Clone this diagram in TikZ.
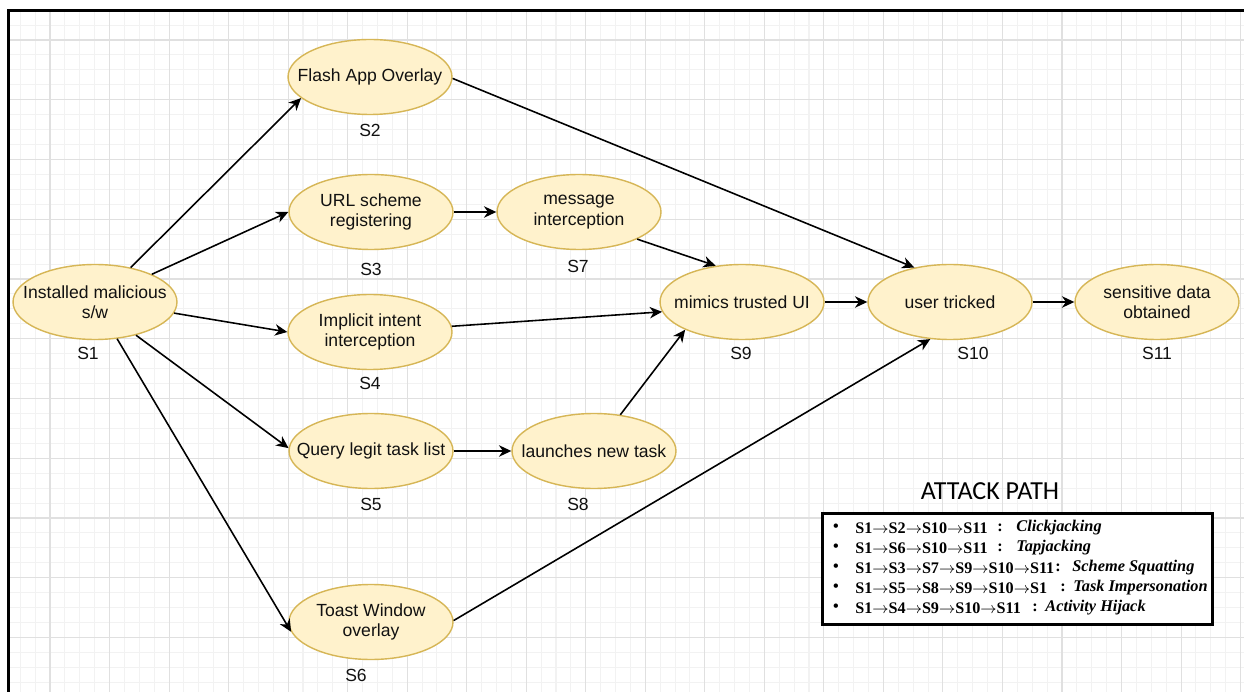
\documentclass[tikz,border=0pt]{standalone}
\usepackage{fontspec}
\setmainfont{Liberation Sans}
\newfontfamily\serifb{Liberation Serif}
\newfontfamily\titlefont{Carlito}
\usetikzlibrary{shapes.geometric,arrows.meta}
\definecolor{fillY}{HTML}{FFF2CC}
\definecolor{drawY}{HTML}{D6B656}
\definecolor{gminor}{HTML}{F2F2F2}
\definecolor{gmajor}{HTML}{E0E0E0}
\definecolor{txt}{HTML}{111111}
\newcommand{\ra}{$\rightarrow$}
\begin{document}
\begin{tikzpicture}[x=0.02cm,y=-0.02cm,
  st/.style={ellipse, draw=drawY, fill=fillY, line width=0.8pt, minimum width=3.28cm, minimum height=1.5cm, inner sep=0pt},
  stt/.style={inner sep=0pt, align=center, text=txt, font=\fontsize{10}{11.6}\selectfont},
  lbl/.style={font=\fontsize{10}{12}\selectfont, inner sep=0pt, text=txt},
  arr/.style={-{Stealth[length=7pt,width=6.5pt,inset=2.2pt]}, line width=0.9pt},
  ptxt/.style={anchor=west, inner sep=0pt, font=\serifb\bfseries\fontsize{9.2}{11}\selectfont},
  itxt/.style={anchor=west, inner sep=0pt, font=\serifb\bfseries\itshape\fontsize{9.3}{11}\selectfont},
  ctxt/.style={inner sep=0pt, font=\serifb\bfseries\fontsize{9.2}{11}\selectfont},
  gminorline/.style={draw=gminor, line width=0.6pt},
  gmajorline/.style={draw=gmajor, line width=0.6pt},
  ]
\useasboundingbox (0,0) rectangle (1244,692);
\fill[white] (0,0) rectangle (1244,692);
% grid
\foreach \k in {-2,...,80} {\draw[gminorline] ({50+14.882*\k},11) -- ({50+14.882*\k},692);}
\foreach \k in {-1,...,43} {\draw[gminorline] (10,{40+14.9375*\k}) -- (1244,{40+14.9375*\k});}
\foreach \k in {0,...,20} {\draw[gmajorline] ({50+59.53*\k},11) -- ({50+59.53*\k},692);}
\foreach \k in {0,...,10} {\draw[gmajorline] (10,{40+59.75*\k}) -- (1244,{40+59.75*\k});}
% frame
\draw[line width=1.7pt] (8.5,692) -- (8.5,10.5) -- (1244,10.5);

% ellipses
\node[st] (s1) at (95,302) {};
\node[st] (s2) at (370,77) {};
\node[st] (s3) at (371,212) {};
\node[st] (s4) at (370,332) {};
\node[st] (s5) at (371,451) {};
\node[st] (s6) at (371,622) {};
\node[st] (s7) at (579,212) {};
\node[st] (s8) at (594,451) {};
\node[st] (s9) at (742,302) {};
\node[st] (s10) at (950,302) {};
\node[st] (s11) at (1157,302) {};
% texts
\node[stt] (t1) at (s1) {Installed malicious\\s/w};
\node[stt] (t2) at (s2) {Flash App Overlay};
\node[stt] (t3) at (s3) {URL scheme\\registering};
\node[stt] (t4) at (s4) {Implicit intent\\interception};
\node[stt] (t5) at (s5) {Query legit task list};
\node[stt] (t6) at (s6) {Toast Window\\overlay};
\node[stt] (t7) at (s7) {message\\interception};
\node[stt] (t8) at (s8) {launches new task};
\node[stt] (t9) at (s9) {mimics trusted UI};
\node[stt] (t10) at (s10) {user tricked};
\node[stt] (t11) at (s11) {sensitive data\\obtained};

% labels
\node[lbl] (l1) at (88,353) {S1};
\node[lbl] (l2) at (370,130) {S2};
\node[lbl] (l3) at (371,269) {S3};
\node[lbl] (l4) at (370,383) {S4};
\node[lbl] (l5) at (371,504) {S5};
\node[lbl] (l6) at (356,675) {S6};
\node[lbl] (l7) at (578,266) {S7};
\node[lbl] (l8) at (578,504) {S8};
\node[lbl] (l9) at (741,353) {S9};
\node[lbl] (l10) at (973,353) {S10};
\node[lbl] (l11) at (1157,353) {S11};

% edges
\draw[arr] (s1.44) -- (s2.197);
\draw[arr] (s1.26) -- (s3.180);
\draw[arr] (s1.-8.5) -- (s4.180);
\draw[arr] (s1.-39) -- (s5.178);
\draw[arr] (s1.-59) -- (s6.187);
\draw[arr] (s3.0) -- (s7.180);
\draw[arr] (s7.-25) -- (s9.126);
\draw[arr] (s4.4) -- (s9.187);
\draw[arr] (s8.54) -- (s9.206);
\draw[arr] (s5.0) -- (s8.180);
\draw[arr] (s2.-1.5) -- (s10.136);
\draw[arr] (s6.1.5) -- (s10.242);
\draw[arr] (s9.0) -- (s10.180);
\draw[arr] (s10.0) -- (s11.180);

% attack path
\node[inner sep=0pt, text=black, font=\titlefont\fontsize{14.8}{16}\selectfont] (title) at (990,491) {ATTACK PATH};
\node[draw=black, line width=1.7pt, fill=white, minimum width=7.82cm, minimum height=2.24cm, inner sep=0pt] (box) at (1017.5,569) {};
\foreach \y/\n in {528/1,548/2,568/3,588/4,608/5} {\node[ctxt] (b\n) at (836,\y) {\textbullet};}
\node[ptxt] (p1) at (855,528) {S1\ra S2\ra S10\ra S11};
\node[ctxt] (c1) at (1000,528) {:};
\node[itxt] (i1) at (1016,528) {Clickjacking};
\node[ptxt] (p2) at (855,548) {S1\ra S6\ra S10\ra S11};
\node[ctxt] (c2) at (1000,548) {:};
\node[itxt] (i2) at (1016,548) {Tapjacking};
\node[ptxt] (p3) at (855,568) {S1\ra S3\ra S7\ra S9\ra S10\ra S11};
\node[ctxt] (c3) at (1058,568) {:};
\node[itxt] (i3) at (1072,568) {Scheme Squatting};
\node[ptxt] (p4) at (855,588) {S1\ra S5\ra S8\ra S9\ra S10\ra S1};
\node[ctxt] (c4) at (1063,588) {:};
\node[itxt] (i4) at (1073,588) {Task Impersonation};
\node[ptxt] (p5) at (855,608) {S1\ra S4\ra S9\ra S10\ra S11};
\node[ctxt] (c5) at (1035,608) {:};
\node[itxt] (i5) at (1045,608) {Activity Hijack};
\end{tikzpicture}
\end{document}
